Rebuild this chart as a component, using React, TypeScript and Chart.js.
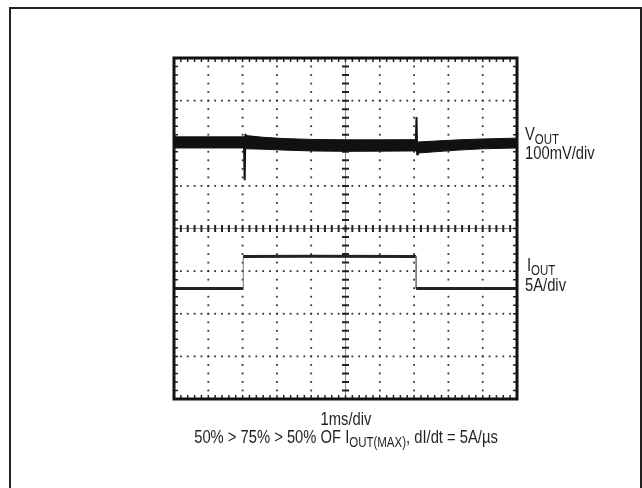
import React, { useEffect, useRef } from "react";
import { Chart, registerables } from "chart.js";

Chart.register(...registerables);

// Scope screen: 10 horizontal divisions (1ms/div), 8 vertical divisions (centre = 0)
const X_DIVS = 10;
const Y_DIVS = 8;
const SUBDIV = 5;

// VOUT trace (noise band, in divisions)
const vOutTime = [0, 1.0, 2.02, 2.1, 2.6, 3.2, 4.0, 5.0, 6.0, 7.05, 7.12, 7.6, 8.3, 9.0, 10];
const vOutUpper = [2.15, 2.15, 2.15, 2.18, 2.14, 2.11, 2.09, 2.08, 2.08, 2.085, 2.03, 2.05, 2.08, 2.1, 2.12];
const vOutLower = [1.89, 1.89, 1.89, 1.87, 1.86, 1.84, 1.82, 1.81, 1.815, 1.82, 1.77, 1.8, 1.84, 1.87, 1.89];

// VOUT transient spikes (load step up / load step down)
const spike1Time = [2.04, 2.06, 2.075, 2.085, 2.11];
const spike1Value = [2.0, 1.13, 1.95, 2.22, 2.05];
const spike2Time = [7.05, 7.07, 7.09, 7.11];
const spike2Value = [2.0, 2.615, 1.74, 1.9];

// IOUT trace (in divisions)
const iOutTime = [0, 1.0, 2.02, 2.02, 4.0, 7.06, 7.06, 9.0, 10];
const iOutLevel = [-1.41, -1.41, -1.41, -0.655, -0.65, -0.655, -1.41, -1.41, -1.41];

const FONT = '"Liberation Sans", Arial, sans-serif';

const scopePlugin = {
  id: "scope",
  beforeDatasetsDraw(chart: any) {
    const { ctx, chartArea: a, scales } = chart;
    const xs = scales.x;
    const ys = scales.y;
    ctx.save();
    ctx.fillStyle = "#333";
    // dotted horizontal lines
    for (let j = -Y_DIVS / 2 + 1; j < Y_DIVS / 2; j++) {
      if (j === 0) continue;
      const py = ys.getPixelForValue(j);
      for (let k = 0; k <= X_DIVS * SUBDIV; k++) {
        const px = xs.getPixelForValue(k / SUBDIV);
        ctx.fillRect(px - 0.9, py - 0.9, 1.8, 1.8);
      }
    }
    // dotted vertical lines
    for (let i = 1; i < X_DIVS; i++) {
      if (i === X_DIVS / 2) continue;
      const px = xs.getPixelForValue(i);
      for (let k = -Y_DIVS / 2 * SUBDIV; k <= Y_DIVS / 2 * SUBDIV; k++) {
        const py = ys.getPixelForValue(k / SUBDIV);
        ctx.fillRect(px - 0.9, py - 0.9, 1.8, 1.8);
      }
    }
    // centre axes
    const cx = xs.getPixelForValue(X_DIVS / 2);
    const cy = ys.getPixelForValue(0);
    ctx.strokeStyle = "#888";
    ctx.lineWidth = 1;
    ctx.beginPath();
    ctx.moveTo(cx, a.top);
    ctx.lineTo(cx, a.bottom);
    ctx.moveTo(a.left, cy);
    ctx.lineTo(a.right, cy);
    ctx.stroke();
    ctx.strokeStyle = "#222";
    ctx.lineWidth = 2;
    ctx.beginPath();
    for (let k = -Y_DIVS / 2 * SUBDIV; k <= Y_DIVS / 2 * SUBDIV; k++) {
      const py = ys.getPixelForValue(k / SUBDIV);
      ctx.moveTo(cx - 3.5, py);
      ctx.lineTo(cx + 3.5, py);
    }
    for (let k = 0; k <= X_DIVS * SUBDIV; k++) {
      const px = xs.getPixelForValue(k / SUBDIV);
      ctx.moveTo(px, cy - 3.5);
      ctx.lineTo(px, cy + 3.5);
    }
    ctx.stroke();
    // edge ticks
    ctx.lineWidth = 1.5;
    ctx.beginPath();
    for (let k = 0; k <= X_DIVS * SUBDIV; k++) {
      const px = xs.getPixelForValue(k / SUBDIV);
      ctx.moveTo(px, a.top);
      ctx.lineTo(px, a.top + 4);
      ctx.moveTo(px, a.bottom);
      ctx.lineTo(px, a.bottom - 4);
    }
    for (let k = -Y_DIVS / 2 * SUBDIV; k <= Y_DIVS / 2 * SUBDIV; k++) {
      const py = ys.getPixelForValue(k / SUBDIV);
      ctx.moveTo(a.left, py);
      ctx.lineTo(a.left + 4, py);
      ctx.moveTo(a.right, py);
      ctx.lineTo(a.right - 4, py);
    }
    ctx.stroke();
    ctx.restore();
  },
  afterDraw(chart: any) {
    const { ctx, chartArea: a } = chart;
    ctx.save();
    ctx.strokeStyle = "#111";
    ctx.lineWidth = 3;
    ctx.strokeRect(a.left, a.top, a.right - a.left, a.bottom - a.top);
    // outer frame
    ctx.strokeStyle = "#222";
    ctx.lineWidth = 2;
    ctx.strokeRect(10, 8, 631, 492);
    ctx.restore();
  },
};

const pts = (xs: number[], ys: number[]) => xs.map((x, i) => ({ x, y: ys[i] }));

export default function App() {
  const ref = useRef<HTMLCanvasElement>(null);

  useEffect(() => {
    const canvas = ref.current!;
    const chart = new Chart(canvas, {
      type: "line",
      data: {
        datasets: [
          {
            data: pts(vOutTime, vOutUpper),
            borderColor: "#111",
            borderWidth: 1,
            pointRadius: 0,
            fill: false,
          },
          {
            data: pts(vOutTime, vOutLower),
            borderColor: "#111",
            borderWidth: 1,
            pointRadius: 0,
            backgroundColor: "#111",
            fill: "-1",
          },
          {
            data: pts(spike1Time, spike1Value),
            borderColor: "#111",
            borderWidth: 2,
            pointRadius: 0,
            fill: false,
          },
          {
            data: pts(spike2Time, spike2Value),
            borderColor: "#111",
            borderWidth: 2,
            pointRadius: 0,
            fill: false,
          },
          {
            data: pts(iOutTime, iOutLevel),
            borderColor: "#222",
            borderWidth: 3,
            pointRadius: 0,
            fill: false,
            segment: {
              borderWidth: (c: any) => (c.p0.parsed.x === c.p1.parsed.x ? 1 : 3),
              borderColor: (c: any) => (c.p0.parsed.x === c.p1.parsed.x ? "#777" : "#222"),
            },
          },
        ],
      },
      options: {
        animation: false,
        responsive: false,
        devicePixelRatio: 1,
        layout: { padding: { left: 174, top: 58, right: 125, bottom: 89 } },
        plugins: { legend: { display: false }, tooltip: { enabled: false } },
        scales: {
          x: { type: "linear", min: 0, max: X_DIVS, display: false },
          y: { type: "linear", min: -Y_DIVS / 2, max: Y_DIVS / 2, display: false },
        },
      } as any,
      plugins: [scopePlugin],
    });
    return () => chart.destroy();
  }, []);

  const txt: React.CSSProperties = {
    position: "absolute",
    fontFamily: FONT,
    fontSize: 18,
    lineHeight: "18px",
    color: "#231f20",
    whiteSpace: "nowrap",
    transform: "scaleX(0.82)",
    transformOrigin: "left center",
  };
  const centred: React.CSSProperties = { ...txt, transformOrigin: "center center", textAlign: "center" };
  const sub: React.CSSProperties = { fontSize: 14, position: "relative", top: 4 };

  return (
    <div style={{ position: "fixed", left: 0, top: 0, width: 642, height: 488, background: "#fff", overflow: "hidden" }}>
      <canvas ref={ref} width={642} height={488} style={{ position: "absolute", left: 0, top: 0, width: 642, height: 488 }} />
      <div style={{ ...txt, left: 525, top: 125 }}>
        V<span style={sub}>OUT</span>
      </div>
      <div style={{ ...txt, left: 525, top: 144 }}>100mV/div</div>
      <div style={{ ...txt, left: 527, top: 256 }}>
        I<span style={sub}>OUT</span>
      </div>
      <div style={{ ...txt, left: 525, top: 276 }}>5A/div</div>
      <div style={{ ...centred, left: 146, width: 400, top: 410 }}>1ms/div</div>
      <div style={{ ...centred, left: 46, width: 600, top: 428 }}>
        50% &gt; 75% &gt; 50% OF I<span style={sub}>OUT(MAX)</span>, dI/dt = 5A/µs
      </div>
    </div>
  );
}
